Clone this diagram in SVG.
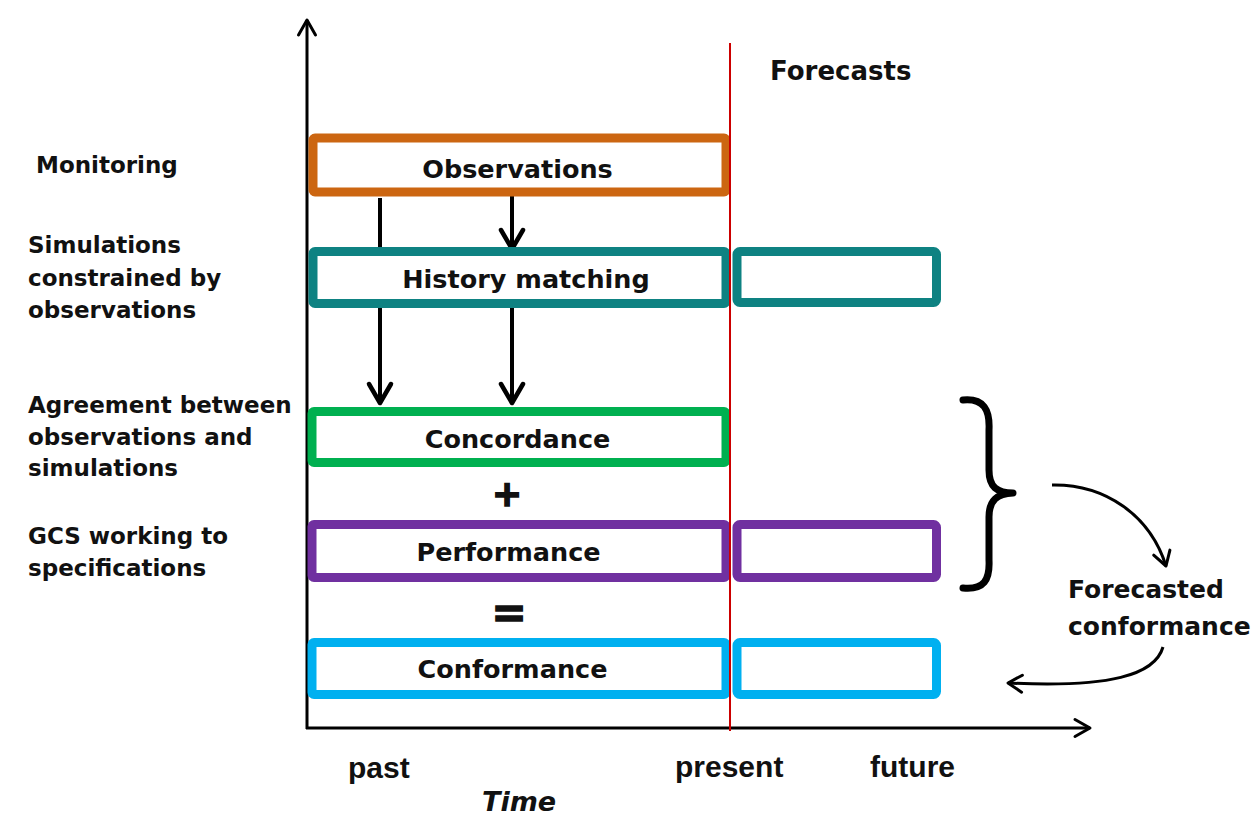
<svg xmlns="http://www.w3.org/2000/svg" width="1252" height="819" viewBox="0 0 1252 819">
<style>
.box{fill:#fff;stroke-width:9;}
.lbl{font-family:"DejaVu Sans",sans-serif;font-weight:bold;font-size:25.5px;fill:#111;text-anchor:middle;}
.op{font-family:"DejaVu Sans",sans-serif;font-weight:bold;fill:#111;stroke:#111;stroke-width:1.6;text-anchor:middle;}
.side{font-family:"DejaVu Sans",sans-serif;font-weight:bold;font-size:23px;fill:#111;}
.time{font-family:"Liberation Sans",Arial,sans-serif;font-weight:bold;font-size:30px;fill:#111;}
.ax{stroke:#000;stroke-width:3;fill:none;}
.conn{stroke:#000;stroke-width:4;fill:none;}
.curve{stroke:#000;stroke-width:3;fill:none;}
</style>
<defs>
<marker id="ahThick" markerUnits="userSpaceOnUse" viewBox="-30 -20 40 40" markerWidth="40" markerHeight="40" refX="0" refY="0" orient="auto">
<path d="M-19,-11 L0,0 L-19,11" fill="none" stroke="#000" stroke-width="4.5" stroke-linejoin="round" stroke-linecap="round"/>
</marker>
<marker id="ahAxis" markerUnits="userSpaceOnUse" viewBox="-30 -20 40 40" markerWidth="40" markerHeight="40" refX="0" refY="0" orient="auto">
<path d="M-15,-8.5 L0,0 L-15,8.5" fill="none" stroke="#000" stroke-width="3" stroke-linejoin="round" stroke-linecap="round"/>
</marker>
<marker id="ahThin" markerUnits="userSpaceOnUse" viewBox="-30 -20 40 40" markerWidth="40" markerHeight="40" refX="0" refY="0" orient="auto">
<path d="M-14,-8.5 L0,0 L-14,8.5" fill="none" stroke="#000" stroke-width="3" stroke-linejoin="round" stroke-linecap="round"/>
</marker>
</defs>
<rect width="1252" height="819" fill="#fff"/>

<g id="axes">
<line class="ax" x1="307" y1="729" x2="307" y2="20" marker-end="url(#ahAxis)"/>
<line class="ax" x1="306" y1="728" x2="1090" y2="728" marker-end="url(#ahAxis)"/>
</g>

<g id="connectors">
<line class="conn" x1="380" y1="198" x2="380" y2="403" marker-end="url(#ahThick)"/>
<line class="conn" x1="512" y1="196" x2="512" y2="249" marker-end="url(#ahThick)"/>
<line class="conn" x1="512" y1="307" x2="512" y2="403" marker-end="url(#ahThick)"/>
<path class="curve" d="M1052,485 C1105,484 1150,515 1166,566" marker-end="url(#ahThin)"/>
<path class="curve" d="M1163,647 C1155,675 1110,688 1008,683" marker-end="url(#ahThin)"/>
</g>

<g id="observations">
<rect class="box" x="313" y="138" width="413" height="54" rx="2" stroke="#CC6611"/>
<text class="lbl" x="517.5" y="178">Observations</text>
</g>
<g id="history-matching">
<rect class="box" x="313" y="251.5" width="413" height="52" rx="2" stroke="#0E8282"/>
<text class="lbl" x="526" y="288">History matching</text>
</g>
<g id="history-matching-forecast">
<rect class="box" x="737" y="251.5" width="199.5" height="51" rx="3" stroke="#0E8282"/>
</g>
<g id="concordance">
<rect class="box" x="312" y="411.5" width="414" height="51" rx="2" stroke="#00B050"/>
<text class="lbl" x="517.5" y="448">Concordance</text>
</g>
<g id="plus">
<text class="op" x="507" y="506" style="font-size:36px">+</text>
</g>
<g id="performance">
<rect class="box" x="312" y="524.5" width="414" height="53" rx="2" stroke="#7030A0"/>
<text class="lbl" x="508.5" y="561">Performance</text>
</g>
<g id="performance-forecast">
<rect class="box" x="737" y="524.5" width="199.5" height="53" rx="3" stroke="#7030A0"/>
</g>
<g id="equals">
<text class="op" x="509" y="627" style="font-size:42px">=</text>
</g>
<g id="conformance">
<rect class="box" x="312" y="642.5" width="414" height="52" rx="2" stroke="#00B0F0"/>
<text class="lbl" x="512.5" y="678">Conformance</text>
</g>
<g id="conformance-forecast">
<rect class="box" x="737" y="642.5" width="199.5" height="52" rx="3" stroke="#00B0F0"/>
</g>

<g id="present-line">
<line x1="730" y1="43" x2="730" y2="731" stroke="#CC0000" stroke-width="2"/>
</g>

<g id="brace">
<path d="M963,400 C984,398 990,410 989,430 L989,470 C989,487 997,493 1013,493 C997,494 989,500 989,517 L989,560 C990,580 984,590 963,588" fill="none" stroke="#000" stroke-width="7" stroke-linecap="round" stroke-linejoin="round"/>
</g>

<g id="side-labels">
<text class="side" x="36" y="173">Monitoring</text>
<text class="side" x="28" y="253">Simulations</text>
<text class="side" x="28" y="286">constrained by</text>
<text class="side" x="28" y="318">observations</text>
<text class="side" x="28" y="413">Agreement between</text>
<text class="side" x="28" y="445">observations and</text>
<text class="side" x="28" y="476">simulations</text>
<text class="side" x="28" y="544">GCS working to</text>
<text class="side" x="28" y="576">specifications</text>
</g>

<g id="forecasts-label">
<text class="side" x="770" y="80" style="font-size:26px">Forecasts</text>
</g>
<g id="forecasted-conformance">
<text class="side" x="1068" y="598" style="font-size:25px">Forecasted</text>
<text class="side" x="1068" y="635" style="font-size:25px">conformance</text>
</g>

<g id="time-labels">
<text class="time" x="348" y="778">past</text>
<text class="time" x="675" y="777">present</text>
<text class="time" x="870" y="777">future</text>
<text x="482" y="811" style="font-family:'DejaVu Sans',sans-serif;font-weight:bold;font-style:italic;font-size:27px;fill:#111">Time</text>
</g>
</svg>
